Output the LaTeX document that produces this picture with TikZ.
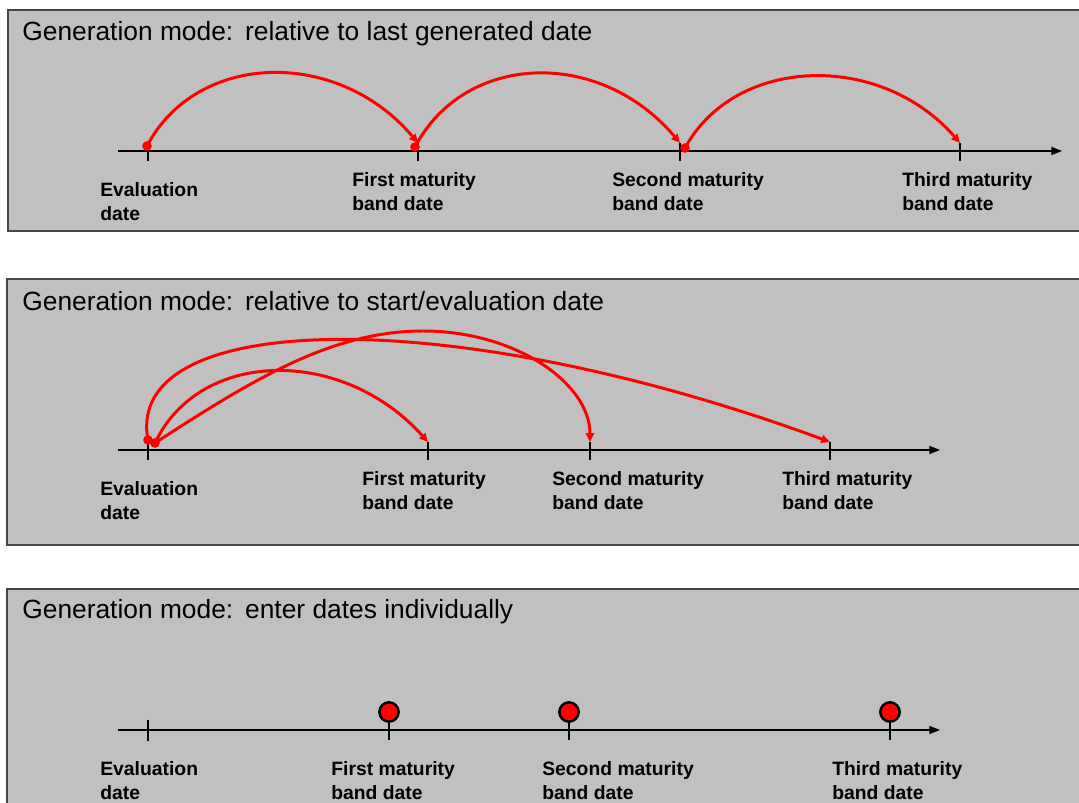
\documentclass[tikz,border=0pt]{standalone}
\usepackage{fontspec}
\setmainfont{Liberation Sans}
\usetikzlibrary{arrows.meta}

\definecolor{panelgray}{RGB}{192,192,192}
\definecolor{framegray}{RGB}{70,70,70}

\begin{document}
\begin{tikzpicture}[x=0.02cm, y=-0.02cm]
  \tikzset{
    panel/.style={draw=framegray, line width=1.1pt, fill=panelgray},
    heading/.style={anchor=base west, inner sep=0pt, font=\fontsize{15}{18}\selectfont},
    datelabel/.style={anchor=north west, inner sep=0pt, align=left, font=\bfseries\fontsize{11}{13.6}\selectfont},
    timeaxis/.style={line width=0.8pt, -{Triangle[length=6pt, width=4.5pt]}},
    tickmark/.style={line width=0.6pt},
    dot/.style={circle, fill=red, inner sep=0pt, minimum size=5.5pt},
    jump/.style={red, line width=1.7pt, -{Triangle[length=5pt, width=4.5pt]}},
    marker/.style={circle, draw=black, line width=1.4pt, fill=red, inner sep=0pt, minimum size=11pt}
  }
  \useasboundingbox (0,0) rectangle (1079,803);
  \clip (0,0) rectangle (1079,803);

  % Relative to last generated date
  \begin{scope}[shift={(0,0)}]
    \draw[panel] (8,10) rectangle (1090,231);
    \node[heading] (h1) at (22,41) {Generation mode:\hspace{0.45em}relative to last generated date};
    \draw[timeaxis] (118,151) -- (1062,151);
    \coordinate (a0) at (148,143); \coordinate (a1) at (418,143); \coordinate (a2) at (680,143); \coordinate (a3) at (960,143);
    \foreach \t in {a0,a1,a2,a3} \draw[tickmark] (\t) -- ++(0,18);
    \node[datelabel] (la0) at (100,182) {Evaluation\\date};
    \node[datelabel] (la1) at (352,172) {First maturity\\band date};
    \node[datelabel] (la2) at (612,172) {Second maturity\\band date};
    \node[datelabel] (la3) at (902,172) {Third maturity\\band date};
    \node[dot] (da0) at (147,146) {}; \node[dot] (da1) at (415,147) {}; \node[dot] (da2) at (685,148) {};
    \draw[jump] (da0.center) .. controls +(50,-95) and +(-80,-95) .. (a1);
    \draw[jump] (da1.center) .. controls +(50,-95) and +(-80,-95) .. (a2);
    \draw[jump] (da2.center) .. controls +(50,-92) and +(-80,-92) .. (a3);
  \end{scope}

  % Relative to start/evaluation date
  \begin{scope}[shift={(0,269)}]
    \draw[panel] (7,10) rectangle (1090,276);
    \node[heading] (h2) at (22,42) {Generation mode:\hspace{0.45em}relative to start/evaluation date};
    \draw[timeaxis] (118,181) -- (940,181);
    \coordinate (b0) at (148,173); \coordinate (b1) at (428,173); \coordinate (b2) at (590,173); \coordinate (b3) at (830,173);
    \foreach \t in {b0,b1,b2,b3} \draw[tickmark] (\t) -- ++(0,18);
    \node[datelabel] (lb0) at (100,212) {Evaluation\\date};
    \node[datelabel] (lb1) at (362,202) {First maturity\\band date};
    \node[datelabel] (lb2) at (552,202) {Second maturity\\band date};
    \node[datelabel] (lb3) at (782,202) {Third maturity\\band date};
    \node[dot] (db0) at (148,171) {}; \node[dot] (db1) at (155,174) {};
    \coordinate (bt) at (423,62);
    \draw[jump] (db1.center) .. controls +(45,-95) and +(-85,-95) .. (b1);
    \draw[jump] (db1.center) .. controls +(100,-65) and +(-90,0) .. (bt) .. controls +(92,0) and +(0,-59) .. (b2);
    \draw[jump] (db0.center) .. controls +(-25,-130) and +(-380,-140) .. (b3);
  \end{scope}

  % Enter dates individually
  \begin{scope}[shift={(0,579)}]
    \draw[panel] (7,10) rectangle (1090,250);
    \node[heading] (h3) at (22,40) {Generation mode:\hspace{0.45em}enter dates individually};
    \draw[timeaxis] (118,151) -- (940,151);
    \coordinate (c0) at (148,141);
    \draw[tickmark] (c0) -- ++(0,21);
    \node[marker] (c1) at (389,133) {}; \node[marker] (c2) at (569,133) {}; \node[marker] (c3) at (890,133) {};
    \foreach \t in {c1,c2,c3} \draw[tickmark] (\t.south) -- ++(0,17);
    \node[datelabel] (lc0) at (100,182) {Evaluation\\date};
    \node[datelabel] (lc1) at (331,182) {First maturity\\band date};
    \node[datelabel] (lc2) at (542,182) {Second maturity\\band date};
    \node[datelabel] (lc3) at (832,182) {Third maturity\\band date};
  \end{scope}
\end{tikzpicture}
\end{document}
